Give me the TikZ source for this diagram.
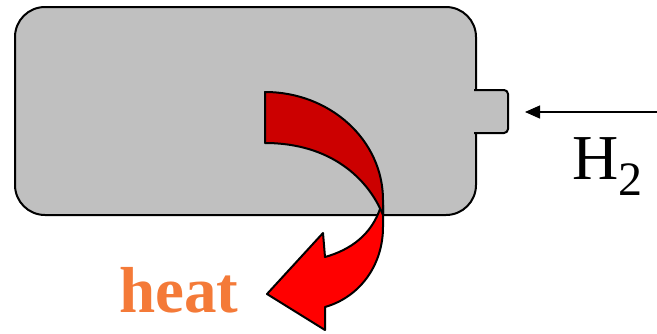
\documentclass[tikz,border=0pt]{standalone}
\usepackage{fontspec}
\setmainfont{Liberation Serif}
\usetikzlibrary{arrows.meta}
\definecolor{boxgray}{RGB}{192,192,192}
\definecolor{darkred}{RGB}{204,0,0}
\definecolor{brightred}{RGB}{255,0,0}
\definecolor{heatorange}{RGB}{244,122,56}
\begin{document}
\begin{tikzpicture}[x=1pt,y=-1pt,
  outline/.style={draw=black,line width=2pt,line join=round}]
\useasboundingbox (0,0) rectangle (657,333);
% tank
\filldraw[outline, fill=boxgray, rounded corners=30pt] (15,7) rectangle (476,215);
% inlet nub
\filldraw[outline, fill=boxgray, rounded corners=4pt] (474,90) -- (508,90) -- (508,133) -- (474,133);
% back (bright) part of curved arrow
\filldraw[outline, fill=brightred] (381,206) .. controls (372,235) and (350,250) .. (325,257)
  -- (323,233) -- (267,294) -- (325,330) -- (325,307)
  .. controls (360,297) and (383,265) .. (383,227) -- (383,205) -- cycle;
% front (dark) part of curved arrow
\filldraw[outline, fill=darkred] (265,92) .. controls (330,92) and (383,140) .. (383,200)
  -- (383,215) .. controls (368,178) and (330,143) .. (265,143) -- cycle;
% labels
\node[anchor=base west, inner sep=0, font=\fontsize{64}{64}\selectfont] (h2) at (572,179)
  {H\raisebox{-16pt}{\fontsize{48}{48}\selectfont 2}};
\node[anchor=base west, inner sep=0, text=heatorange, font=\fontsize{65}{65}\selectfont\bfseries] (heat) at (119,312) {heat};
% hydrogen inlet arrow
\coordinate (h2src) at (657,112);
\coordinate (inlet) at (525,112);
\draw[line width=1.3pt, -{Triangle[length=15pt,width=13pt]}] (h2src) -- (inlet);
\end{tikzpicture}
\end{document}
